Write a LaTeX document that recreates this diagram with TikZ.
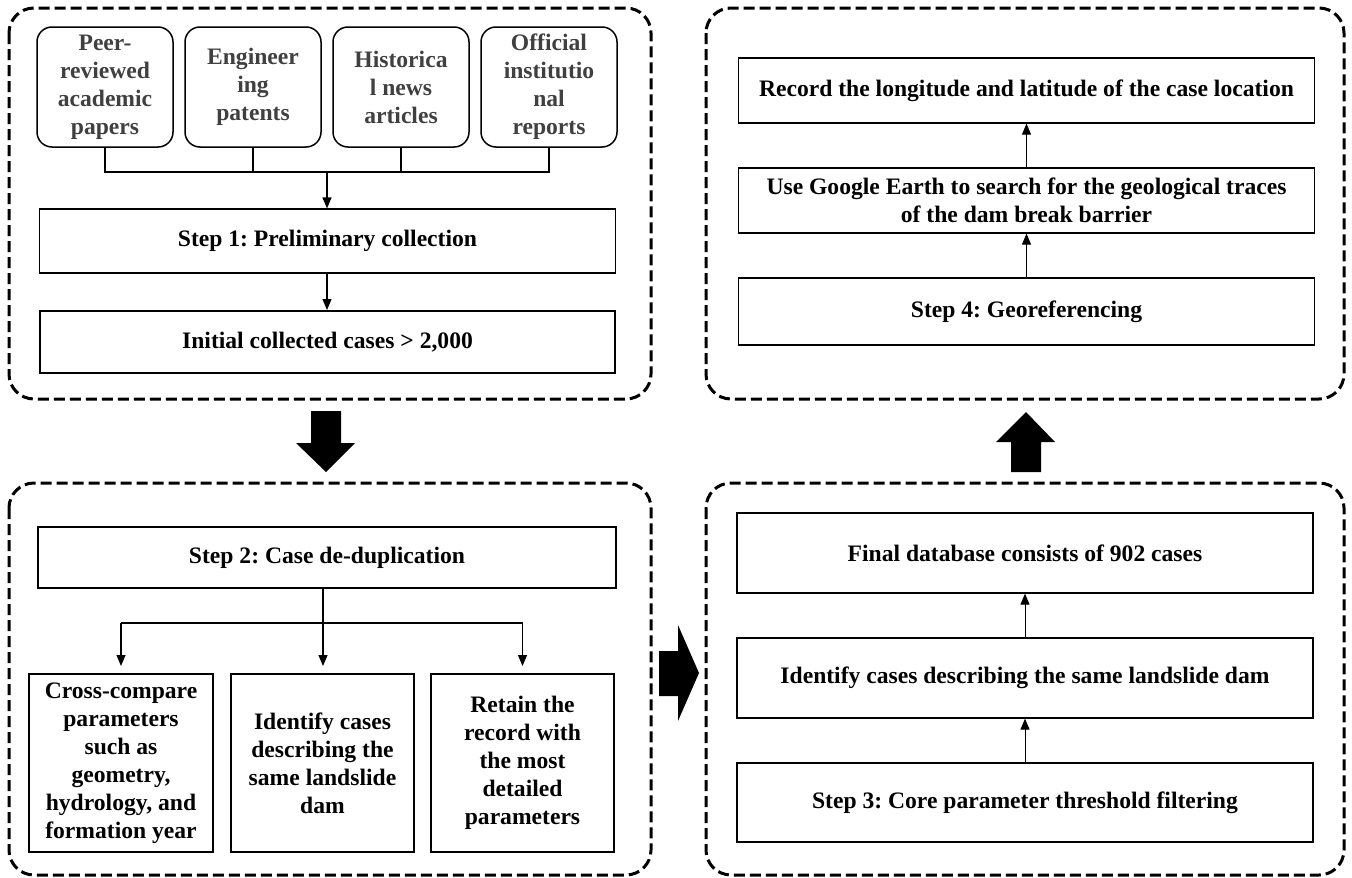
\documentclass[tikz,border=0pt]{standalone}
\usepackage{fontspec}
\setmainfont{Liberation Serif}
\usetikzlibrary{arrows.meta}
\definecolor{srcgray}{RGB}{64,64,64}
\frenchspacing
\begin{document}
\begin{tikzpicture}[x=1pt,y=-1pt,
    font=\fontsize{23.6}{28}\selectfont\bfseries,
    panel/.style={line width=3pt, dash pattern=on 11pt off 5pt, rounded corners=25pt},
    srcbox/.style={draw, line width=1.5pt, rounded corners=15pt, minimum width=136pt, minimum height=120pt, align=center, text=srcgray, inner sep=0pt},
    stepbox/.style={draw, line width=1.2pt, minimum width=576pt, align=center, inner sep=0pt},
    thickbox/.style={draw, line width=2pt, align=center, inner sep=0pt},
    arr/.style={line width=1.2pt, -{Triangle[length=11pt,width=9pt]}},
    bigarrow/.style={fill=black}]
    \fill[white] (0,0) rectangle (1352,878);
    \useasboundingbox (0,0) rectangle (1352,878);
    % dashed panels
    \draw[panel] (9,8) rectangle (651,399);
    \draw[panel] (706,8) rectangle (1344,399);
    \draw[panel] (9,483) rectangle (651,875);
    \draw[panel] (706,483) rectangle (1344,875);
    % step 1
    \node[srcbox] (papers) at (105,87) {Peer-\\reviewed\\academic\\papers};
    \node[srcbox] (patents) at (253,87) {Engineer\\ing\\patents};
    \node[srcbox] (news) at (401,87) {Historica\\l news\\articles};
    \node[srcbox] (reports) at (549,87) {Official\\institutio\\nal\\reports};
    \coordinate (hub) at (327,172);
    \node[stepbox, minimum height=64pt] (step1) at (327.5,241) {Step 1: Preliminary collection};
    \node[thickbox, minimum width=575pt, minimum height=62pt] (initial) at (327.5,342) {Initial collected cases > 2,000};
    \draw[line width=1.2pt] (papers.south) -- (papers.south |- hub) -- (reports.south |- hub) -- (reports.south);
    \draw[line width=1.2pt] (patents.south) -- (patents.south |- hub);
    \draw[line width=1.2pt] (news.south) -- (news.south |- hub);
    \draw[arr] (hub) -- (hub |- step1.north);
    \draw[arr] (step1.south -| hub) -- (initial.north -| hub);
    % step 2
    \node[stepbox, minimum width=578pt, minimum height=61pt] (step2) at (327,557.5) {Step 2: Case de-duplication};
    \node[thickbox, minimum width=184pt, minimum height=178pt] (compare) at (121,763) {Cross-compare\\parameters\\such as\\geometry,\\hydrology, and\\formation year};
    \node[thickbox, minimum width=183pt, minimum height=178pt] (identify) at (322.5,763) {Identify cases\\describing the\\same landslide\\dam};
    \node[thickbox, minimum width=183pt, minimum height=178pt] (retain) at (522.5,763) {Retain the\\record with\\the most\\detailed\\parameters};
    \coordinate (split) at (323,623);
    \draw[line width=1.2pt] (step2.south -| split) -- (split);
    \draw[line width=1.2pt] (compare.north |- split) -- (retain.north |- split);
    \draw[arr, shorten >=7pt] (compare.north |- split) -- (compare.north);
    \draw[arr, shorten >=7pt] (split) -- (split |- identify.north);
    \draw[arr, shorten >=7pt] (retain.north |- split) -- (retain.north);
    % step 3
    \node[stepbox, minimum height=80pt] (final) at (1025,553) {Final database consists of 902 cases};
    \node[stepbox, minimum height=80pt] (same) at (1025,678) {Identify cases describing the same landslide dam};
    \node[stepbox, minimum height=79pt] (step3) at (1025,802.5) {Step 3: Core parameter threshold filtering};
    \draw[arr, line width=1pt] (step3.north) -- (same.south);
    \draw[arr, line width=1pt] (same.north) -- (final.south);
    % step 4
    \node[stepbox, minimum height=65pt] (record) at (1026.5,90.5) {Record the longitude and latitude of the case location};
    \node[stepbox, minimum height=65pt] (google) at (1026.5,200.5) {Use Google Earth to search for the geological traces\\of the dam break barrier};
    \node[stepbox, minimum height=67pt] (step4) at (1026.5,311.5) {Step 4: Georeferencing};
    \draw[arr, line width=1pt] (step4.north) -- (google.south);
    \draw[arr, line width=1pt] (google.north) -- (record.south);
    % block arrows between panels
    \fill[bigarrow] (311,411) -- (341,411) -- (341,443) -- (355,443) -- (326,472) -- (296,443) -- (311,443) -- cycle;
    \fill[bigarrow] (659,651) -- (678,651) -- (678,625) -- (699,673) -- (678,721) -- (678,696) -- (659,696) -- cycle;
    \fill[bigarrow] (1011,472) -- (1041,472) -- (1041,442) -- (1055,442) -- (1026,412) -- (996,442) -- (1011,442) -- cycle;
\end{tikzpicture}
\end{document}
